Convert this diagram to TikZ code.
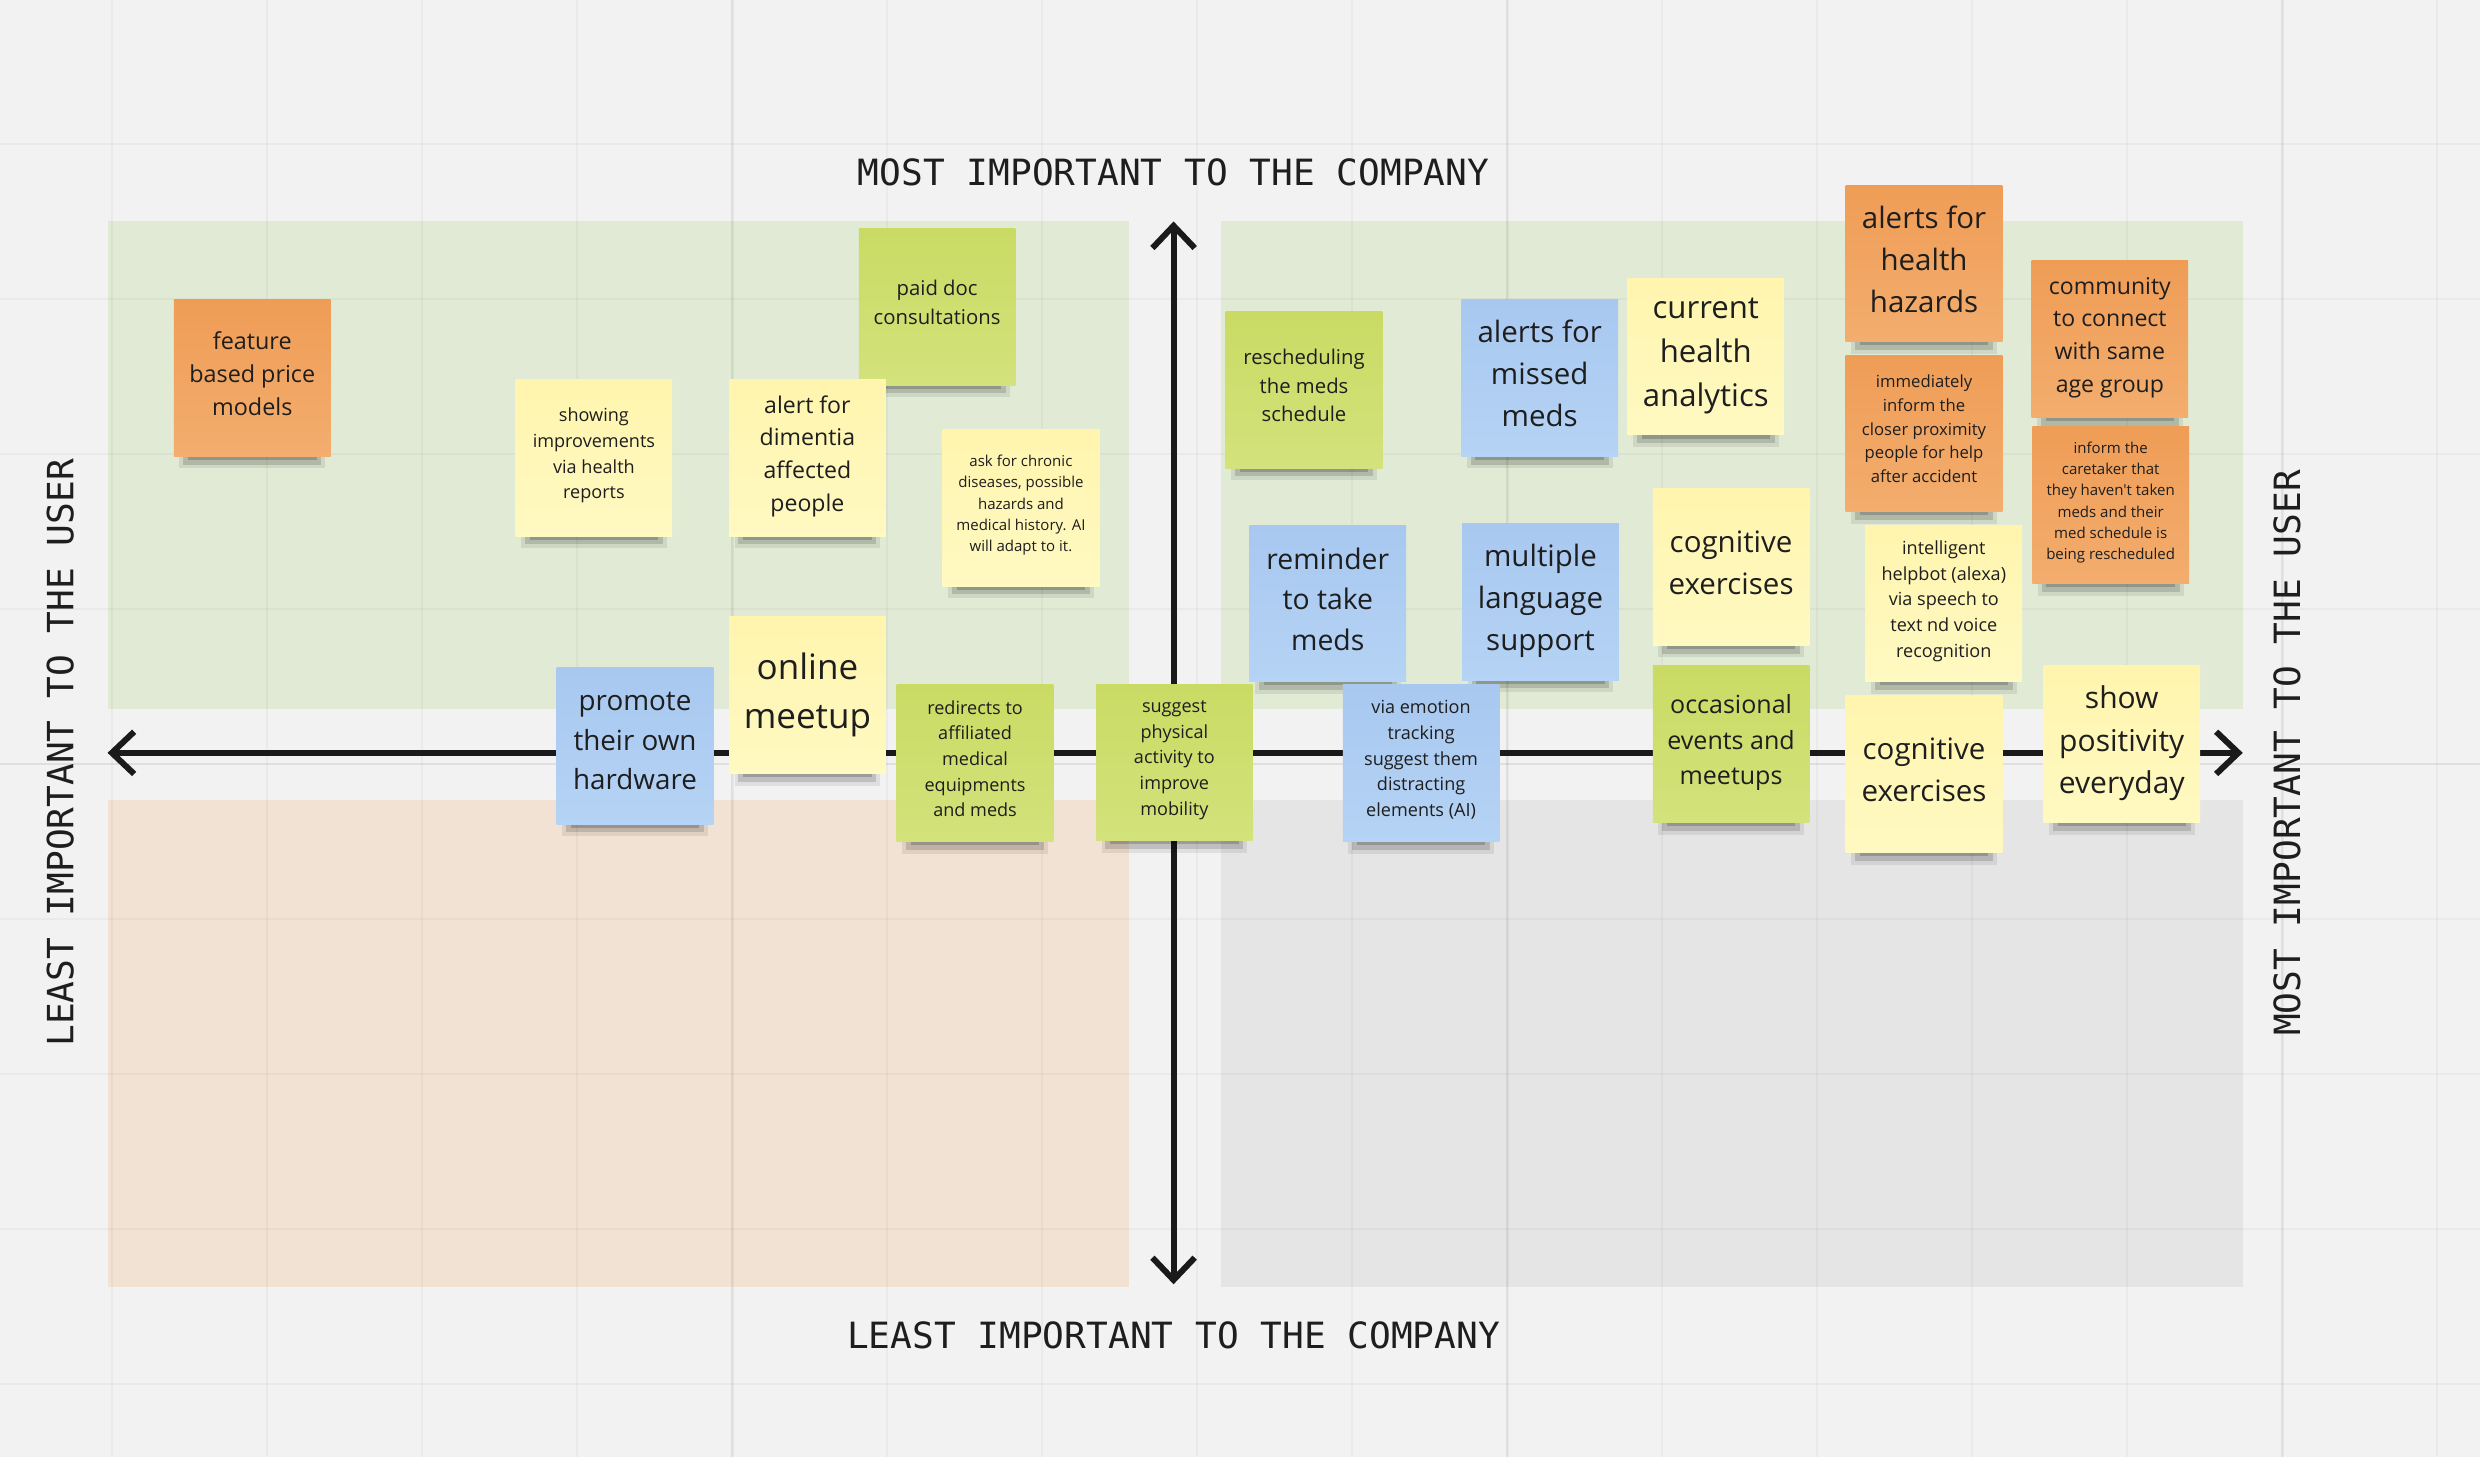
\documentclass[tikz,border=0pt]{standalone}
\usepackage{fontspec}
\usepackage{tikz}
\usetikzlibrary{arrows.meta,shadows}
\newfontfamily\notefont{Open Sans}
\newfontfamily\axisfont{DejaVu Sans Mono}
\newcommand{\nsz}[1]{\fontsize{#1}{\fpeval{#1*1.42}}\selectfont}
\definecolor{paper}{HTML}{F2F2F2}
\definecolor{quadgreen}{HTML}{E0EAD5}
\definecolor{quadpeach}{HTML}{F2E2D3}
\definecolor{quadgray}{HTML}{E5E5E5}
\definecolor{ink}{HTML}{1E1E1E}
\definecolor{axisc}{HTML}{1A1A1A}
\definecolor{orA}{HTML}{EF9D56}
\definecolor{orB}{HTML}{F3AD6E}
\definecolor{grA}{HTML}{CADB64}
\definecolor{grB}{HTML}{D3E27B}
\definecolor{yeA}{HTML}{FFF5AE}
\definecolor{yeB}{HTML}{FFF9C2}
\definecolor{blA}{HTML}{A8C8F0}
\definecolor{blB}{HTML}{B5D3F4}

\begin{document}
\begin{tikzpicture}[
    x=0.01cm, y=-0.01cm,
    note/.style={rectangle, minimum width=0.99cm, minimum height=0.99cm, inner sep=0pt, align=center, text=ink, text depth=1.6pt,
        general shadow={fill=black, opacity=.08, shadow scale=.93, shadow yshift=-3.4pt},
        general shadow={fill=black, opacity=.14, shadow scale=.88, shadow yshift=-3.6pt},
        general shadow={fill=black, opacity=.18, shadow scale=.82, shadow yshift=-3.9pt}},
    fs/.style={font=\notefont\nsz{#1}},
    orangenote/.style={note, top color=orA, bottom color=orB},
    greennote/.style={note, top color=grA, bottom color=grB},
    yellownote/.style={note, top color=yeA, bottom color=yeB},
    bluenote/.style={note, top color=blA, bottom color=blB},
    axislabel/.style={font=\axisfont\fontsize{6.5}{8}\selectfont, text=ink},
    axisline/.style={line width=1.08pt, draw=axisc, {Straight Barb[length=4pt,width=7.6pt]}-{Straight Barb[length=4pt,width=7.6pt]}},
    gridline/.style={line width=0.4pt, draw=black, opacity=.03},
    gridmajor/.style={line width=0.5pt, draw=black, opacity=.045},
]
\useasboundingbox (0,0) rectangle (1568,921);
\fill[paper] (0,0) rectangle (1568,921);

\fill[quadgreen] (68,140) rectangle (714,448);
\fill[quadgreen] (772,140) rectangle (1418,448);
\fill[quadpeach] (68,506) rectangle (714,814);
\fill[quadgray] (772,506) rectangle (1418,814);

\foreach \gx in {71,169,...,1541} \draw[gridline] (\gx,0) -- (\gx,921);
\foreach \gy in {91,189,...,875} \draw[gridline] (0,\gy) -- (1568,\gy);
\foreach \gx in {463,953,1443} \draw[gridmajor] (\gx,0) -- (\gx,921);
\draw[gridmajor] (0,483) -- (1568,483);

\coordinate (west) at (68,476);
\coordinate (east) at (1418,476);
\coordinate (north) at (742,140);
\coordinate (south) at (742,812);
\draw[axisline] (west) -- (east);
\draw[axisline] (south) -- (north);

\node[axislabel] (companytop) at (742,109) {MOST IMPORTANT TO THE COMPANY};
\node[axislabel] (companybot) at (742,844) {LEAST IMPORTANT TO THE COMPANY};
\node[axislabel, rotate=90] (userleft) at (38,476) {LEAST IMPORTANT TO THE USER};
\node[axislabel, rotate=90] (userright) at (1446,476) {MOST IMPORTANT TO THE USER};

\node[orangenote, fs=4.2] (feature) at (159.5,239) {feature\\based price\\models};
\node[greennote, fs=3.65] (paiddoc) at (592.5,194) {paid doc\\consultations};
\node[yellownote, fs=3.25] (healthrep) at (375.5,289.5) {showing\\improvements\\via health\\reports};
\node[yellownote, fs=4.15] (dementia) at (510.5,289.5) {alert for\\dimentia\\affected\\people};
\node[yellownote, fs=2.7] (chronic) at (645.5,321) {ask for chronic\\diseases, possible\\hazards and\\medical history. AI\\will adapt to it.};
\node[bluenote, fs=5] (hardware) at (401.5,471.5) {promote\\their own\\hardware};
\node[yellownote, fs=6.3] (meetup) at (510.5,439.5) {online\\meetup};
\node[greennote, fs=3.25] (redirect) at (616.5,482.5) {redirects to\\affiliated\\medical\\equipments\\and meds};
\node[greennote, fs=3.25] (physical) at (742.5,482) {suggest\\physical\\activity to\\improve\\mobility};

\node[greennote, fs=3.65] (resched) at (824.5,246.5) {rescheduling\\the meds\\schedule};
\node[bluenote, fs=5.3] (missedmeds) at (973.5,239) {alerts for\\missed\\meds};
\node[yellownote, fs=5.6] (analytics) at (1078.5,225.5) {current\\health\\analytics};
\node[orangenote, fs=5.3] (hazards) at (1216.5,166.5) {alerts for\\health\\hazards};
\node[orangenote, fs=4.15] (community) at (1334,214.5) {community\\to connect\\with same\\age group};
\node[orangenote, fs=3] (proximity) at (1216.5,274) {immediately\\inform the\\closer proximity\\people for help\\after accident};
\node[orangenote, fs=2.7] (caretaker) at (1334.5,319.5) {inform the\\caretaker that\\they haven't taken\\meds and their\\med schedule is\\being rescheduled};
\node[bluenote, fs=5.1] (reminder) at (839.5,381.5) {reminder\\to take\\meds};
\node[bluenote, fs=5.3] (language) at (974,380.5) {multiple\\language\\support};
\node[yellownote, fs=5.3] (cogtop) at (1094.5,358.5) {cognitive\\exercises};
\node[yellownote, fs=3.25] (helpbot) at (1229,381.5) {intelligent\\helpbot (alexa)\\via speech to\\text nd voice\\recognition};
\node[bluenote, fs=3.25] (emotion) at (898.5,482.5) {via emotion\\tracking\\suggest them\\distracting\\elements (AI)};
\node[greennote, fs=4.5] (events) at (1094.5,470.5) {occasional\\events and\\meetups};
\node[yellownote, fs=5.3] (cogbottom) at (1216.5,489.5) {cognitive\\exercises};
\node[yellownote, fs=5.4] (positivity) at (1341.5,470.5) {show\\positivity\\everyday};
\end{tikzpicture}
\end{document}
